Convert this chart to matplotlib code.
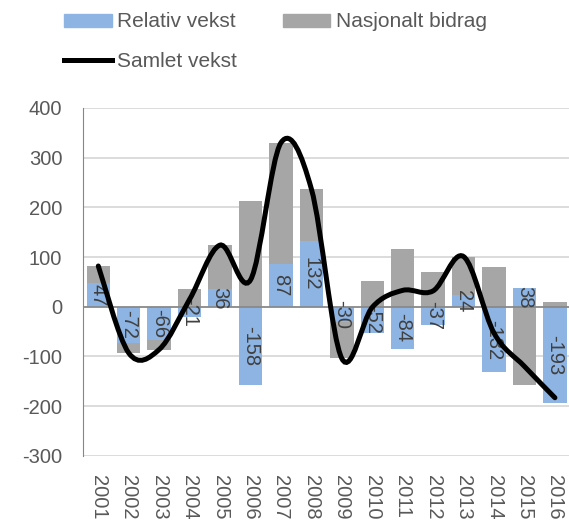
import numpy as np
from matplotlib import pyplot as plt
from matplotlib.path import Path
from matplotlib.patches import PathPatch
from matplotlib.lines import Line2D
from matplotlib.patches import Patch

years = ['2001', '2002', '2003', '2004', '2005', '2006', '2007', '2008',
         '2009', '2010', '2011', '2012', '2013', '2014', '2015', '2016']
relativ = [47, -72, -66, -21, 36, -158, 87, 132, -30, -52, -84, -37, 24, -132, 38, -193]
nasjonalt = [35, -21, -20, 36, 88, 212, 243, 105, -74, 51, 117, 69, 77, 79, -158, 10]
samlet = [82, -93, -86, 15, 124, 54, 330, 237, -104, -1, 33, 32, 101, -53, -120, -183]

blue = '#8DB4E2'
gray = '#A6A6A6'
txt = '#595959'

plt.rcParams['font.family'] = ['Liberation Sans', 'DejaVu Sans']
plt.rcParams['axes.unicode_minus'] = False

fig = plt.figure(figsize=(5.69, 5.24), dpi=100)
ax = fig.add_axes([0.146, 0.13, 0.856, 0.664])

x = np.arange(len(years))
rel = np.array(relativ)
nas = np.array(nasjonalt)
# excel style stacking: positives and negatives stack separately
bottom_nas = np.where(np.sign(rel) == np.sign(nas), rel, 0)

ax.bar(x, rel, width=0.77, color=blue, zorder=2)
ax.bar(x, nas, width=0.77, bottom=bottom_nas, color=gray, zorder=2)

for xi, v in zip(x, relativ):
    ax.text(xi, v / 2, str(v), rotation=270, ha='center', va='center',
            fontsize=14.5, color='#404040', zorder=3)

# smoothed line (bezier through the points)
pts = np.column_stack([x, samlet]).astype(float)
ext = np.vstack([pts[0], pts, pts[-1]])
verts = [tuple(pts[0])]
codes = [Path.MOVETO]
for i in range(len(pts) - 1):
    p0, p1, p2, p3 = ext[i], ext[i + 1], ext[i + 2], ext[i + 3]
    c1 = p1 + (p2 - p0) / 6
    c2 = p2 - (p3 - p1) / 6
    verts += [tuple(c1), tuple(c2), tuple(p2)]
    codes += [Path.CURVE4] * 3
ax.add_patch(PathPatch(Path(verts, codes), fill=False, lw=3.6, ec='black',
                       capstyle='round', zorder=4))

ax.set_xlim(-0.5, len(years) - 0.5)
ax.set_ylim(-300, 400)
ax.set_yticks(range(-300, 401, 100))
ax.set_xticks(x)
ax.set_xticklabels(years, rotation=270)
ax.tick_params(axis='both', length=0, labelsize=14.5, labelcolor=txt)
ax.tick_params(axis='y', pad=15)
ax.tick_params(axis='x', pad=14)
ax.grid(axis='y', color='#D9D9D9', lw=1.3, zorder=0)
ax.set_axisbelow(True)
ax.axhline(0, color='#868686', lw=1.2, zorder=2.5)
for s in ['top', 'right', 'bottom']:
    ax.spines[s].set_visible(False)
ax.spines['left'].set_color('#868686')

handles = [Patch(color=blue), Line2D([], [], color='black', lw=3.6),
           Patch(color=gray)]
labels = ['Relativ vekst', 'Samlet vekst', 'Nasjonalt bidrag']
fig.legend(handles, labels, ncol=2, loc='upper left',
           bbox_to_anchor=(0.079, 1.012), frameon=False, fontsize=15,
           labelcolor=txt, handlelength=2.3, handletextpad=0.25,
           columnspacing=2.2, labelspacing=1.0, handleheight=0.6)

fig.savefig('out.png', dpi=100)
